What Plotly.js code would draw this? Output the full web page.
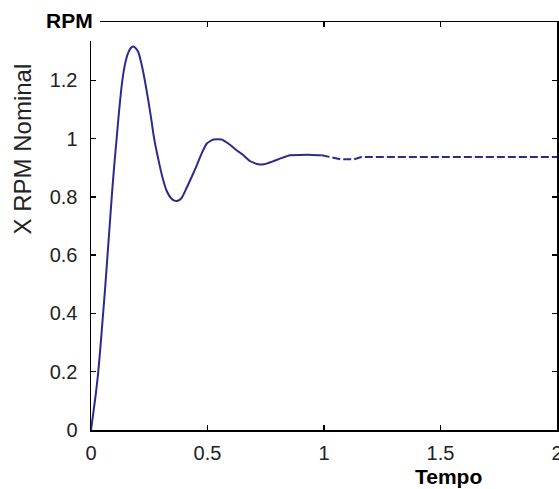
<!DOCTYPE html>
<html>
<head>
<meta charset="utf-8">
<script src="https://cdn.plot.ly/plotly-3.0.1.min.js"></script>
<style>html,body{margin:0;padding:0;background:#fff;}#chart{width:559px;height:489px;}</style>
</head>
<body>
<div id="chart"></div>
<script>
// Time (s) and RPM ratio, solid part of the response
const timeSolid = [0, 0.010, 0.020, 0.030, 0.040, 0.050, 0.060, 0.070, 0.080, 0.090, 0.100, 0.110, 0.120, 0.130, 0.140, 0.150, 0.160, 0.170, 0.180, 0.190, 0.203, 0.217, 0.232, 0.246, 0.258, 0.270, 0.282, 0.296, 0.310, 0.325, 0.342, 0.358, 0.370, 0.389, 0.411, 0.432, 0.454, 0.475, 0.497, 0.525, 0.561, 0.589, 0.625, 0.654, 0.682, 0.718, 0.733, 0.754, 0.775, 0.811, 0.854, 0.900, 0.950, 0.990];
const rpmSolid  = [0, 0.060, 0.120, 0.190, 0.280, 0.380, 0.480, 0.590, 0.700, 0.810, 0.910, 1.000, 1.090, 1.170, 1.230, 1.270, 1.295, 1.310, 1.316, 1.312, 1.297, 1.255, 1.195, 1.130, 1.070, 1.005, 0.955, 0.903, 0.857, 0.820, 0.797, 0.787, 0.786, 0.796, 0.832, 0.868, 0.908, 0.949, 0.983, 0.997, 0.997, 0.983, 0.960, 0.943, 0.923, 0.912, 0.911, 0.914, 0.920, 0.931, 0.943, 0.944, 0.944, 0.943];
// Dashed tail of the response
const timeDashed = [0.990, 1.030, 1.070, 1.130, 1.160, 1.300, 1.500, 1.700, 1.900, 2.000];
const rpmDashed  = [0.943, 0.937, 0.929, 0.929, 0.937, 0.937, 0.937, 0.937, 0.937, 0.937];
const xTicks = [0, 0.5, 1, 1.5, 2];
const xTickText = ['0', '0.5', '1', '1.5', '2'];
const yTicks = [0, 0.2, 0.4, 0.6, 0.8, 1, 1.2];
const yTickText = ['0', '0.2', '0.4', '0.6', '0.8', '1', '1.2'];

const lineColor = '#2b2b8f';
const font = 'Liberation Sans, Arial, sans-serif';

const traces = [
  {x: timeSolid, y: rpmSolid, type: 'scatter', mode: 'lines',
   line: {color: lineColor, width: 2, shape: 'spline', smoothing: 0.5}, hoverinfo: 'skip'},
  {x: timeDashed, y: rpmDashed, type: 'scatter', mode: 'lines',
   line: {color: lineColor, width: 2, dash: '8px,3px'}, hoverinfo: 'skip'}
];

const axisCommon = {
  showgrid: false, zeroline: false, showline: true, linecolor: '#000', linewidth: 1.5,
  mirror: 'ticks', ticks: 'inside', ticklen: 5, tickwidth: 1.5, tickcolor: '#000',
  tickfont: {family: font, size: 20, color: '#222'}, fixedrange: true,
  ticklabeloverflow: 'allow'
};

const layout = {
  width: 559, height: 489,
  margin: {l: 91, r: 2, t: 22, b: 59},
  paper_bgcolor: '#fff', plot_bgcolor: '#fff',
  showlegend: false,
  xaxis: Object.assign({}, axisCommon, {range: [0, 2], tickmode: 'array', tickvals: xTicks, ticktext: xTickText, ticklabelstandoff: 4}),
  yaxis: Object.assign({}, axisCommon, {range: [0, 1.4], tickmode: 'array', tickvals: yTicks, ticktext: yTickText, ticklabelstandoff: 8}),
  shapes: [
    {type: 'rect', xref: 'paper', yref: 'paper', x0: -0.03, x1: 0.0193, y0: 0.9534, y1: 1.06,
     fillcolor: '#fff', line: {width: 0}, layer: 'above'}
  ],
  annotations: [
    {text: '<b>RPM</b>', xref: 'paper', yref: 'paper', x: -0.0472, y: 1.0025,
     xanchor: 'center', yanchor: 'middle', showarrow: false,
     font: {family: font, size: 21, color: '#000'}},
    {text: '<b>Tempo</b>', xref: 'paper', yref: 'paper', x: 0.768, y: -0.115,
     xanchor: 'center', yanchor: 'middle', showarrow: false,
     font: {family: font, size: 21, color: '#000'}},
    {text: 'X RPM Nominal', xref: 'paper', yref: 'paper', x: -0.146, y: 0.690,
     xanchor: 'center', yanchor: 'middle', textangle: -90, showarrow: false,
     font: {family: font, size: 24, color: '#222'}}
  ]
};

Plotly.newPlot('chart', traces, layout, {staticPlot: true, displayModeBar: false});
</script>
</body>
</html>
